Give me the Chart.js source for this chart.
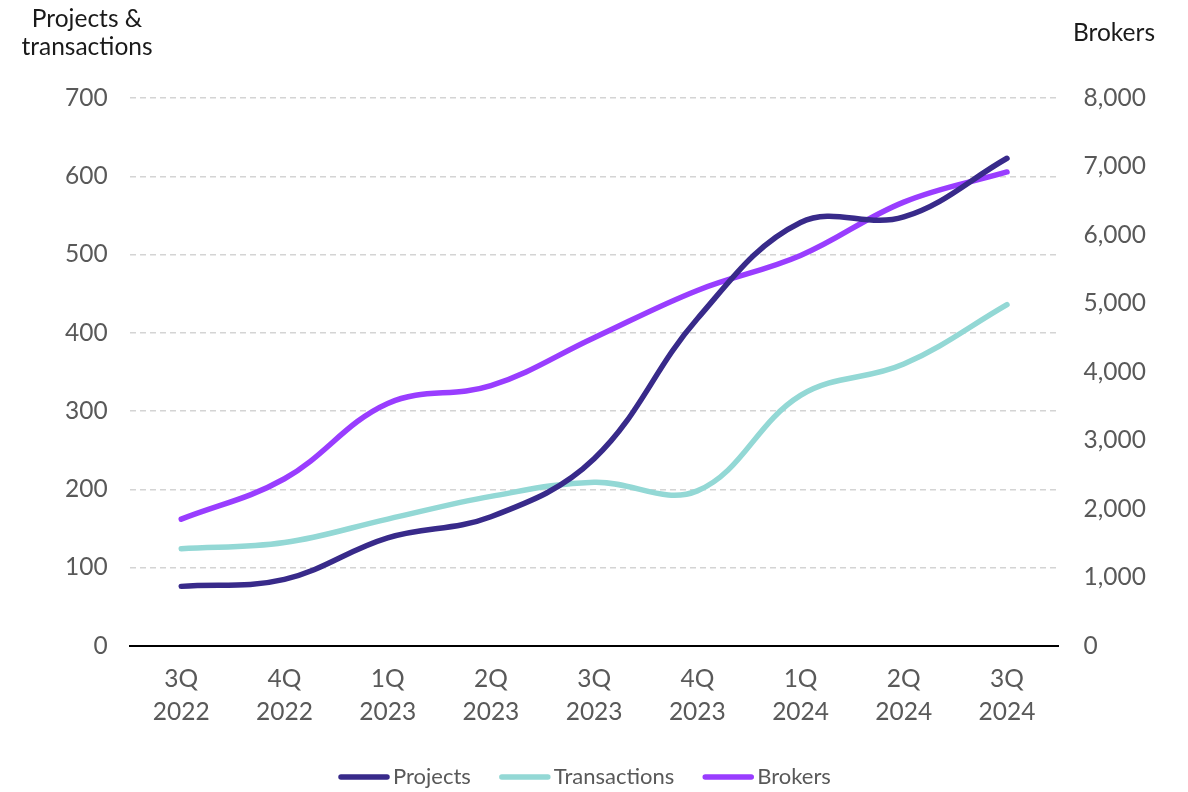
<!DOCTYPE html>
<html>
<head>
<meta charset="utf-8">
<script src="https://cdn.jsdelivr.net/npm/chart.js@4"></script>
<style>
  html, body { margin: 0; padding: 0; background: #fff; }
  #wrap { width: 1188px; height: 792px; position: relative; }
</style>
</head>
<body>
<div id="wrap"><canvas id="chart"></canvas></div>
<script>
// quarters on the x axis (two-line labels)
const quarters = [
  ['3Q', '2022'], ['4Q', '2022'], ['1Q', '2023'], ['2Q', '2023'], ['3Q', '2023'],
  ['4Q', '2023'], ['1Q', '2024'], ['2Q', '2024'], ['3Q', '2024']
];

// left axis series
const projects = [76, 85, 138, 165, 239, 418, 541, 548, 623];
const transactions = [124, 132, 162, 191, 209, 198, 320, 360, 436];

// right axis series
const brokers = [1850, 2440, 3540, 3800, 4500, 5190, 5700, 6480, 6920];

const FONT = 'Lato, "Noto Sans", sans-serif';
const TICK_COLOR = '#595959';

// axis titles above the y axes + a compact legend at the bottom
const extras = {
  id: 'extras',
  afterDraw(chart) {
    const ctx = chart.ctx;
    ctx.save();
    ctx.fillStyle = '#1a1a1a';
    ctx.font = '24.5px ' + FONT;
    ctx.textBaseline = 'middle';
    ctx.textAlign = 'center';
    ctx.fillText('Projects &', 87, 19);
    ctx.fillText('transactions', 87, 47);
    ctx.fillText('Brokers', 1114, 33);

    // legend: short thick line, then label
    ctx.font = '22px ' + FONT;
    ctx.textAlign = 'left';
    let x = 338;
    const y = 777;
    chart.data.datasets.forEach(ds => {
      ctx.strokeStyle = ds.borderColor;
      ctx.lineWidth = ds.borderWidth;
      ctx.lineCap = 'round';
      ctx.beginPath();
      ctx.moveTo(x + 3, y);
      ctx.lineTo(x + 49, y);
      ctx.stroke();
      x += 55;
      ctx.fillStyle = TICK_COLOR;
      ctx.fillText(ds.label, x, y);
      x += ctx.measureText(ds.label).width + 28;
    });
    ctx.restore();
  }
};

const tickFont = { family: FONT, size: 24.5, lineHeight: 1.35 };

new Chart(document.getElementById('chart').getContext('2d'), {
  type: 'line',
  data: {
    labels: quarters,
    datasets: [{
      label: 'Projects',
      data: projects,
      borderColor: '#382a8a',
      backgroundColor: '#382a8a',
      borderWidth: 5.5,
      borderCapStyle: 'round',
      pointRadius: 0,
      tension: 0.38,
      yAxisID: 'y'
    }, {
      label: 'Transactions',
      data: transactions,
      borderColor: '#93d8d5',
      backgroundColor: '#93d8d5',
      borderWidth: 5.5,
      borderCapStyle: 'round',
      pointRadius: 0,
      tension: 0.38,
      yAxisID: 'y'
    }, {
      label: 'Brokers',
      data: brokers,
      borderColor: '#993dff',
      backgroundColor: '#993dff',
      borderWidth: 5.5,
      borderCapStyle: 'round',
      pointRadius: 0,
      tension: 0.38,
      yAxisID: 'y1'
    }]
  },
  options: {
    responsive: true,
    maintainAspectRatio: false,
    animation: false,
    layout: { padding: { top: 98, left: 43, right: 17, bottom: 46 } },
    plugins: {
      tooltip: { enabled: false },
      legend: { display: false }
    },
    scales: {
      x: {
        offset: true,
        grid: { display: false, drawTicks: false },
        border: { color: '#000', width: 2 },
        ticks: {
          color: TICK_COLOR,
          font: tickFont,
          padding: 17,
          maxRotation: 0
        }
      },
      y: {
        position: 'left',
        min: 0,
        max: 700,
        ticks: {
          stepSize: 100,
          color: TICK_COLOR,
          font: tickFont,
          padding: 22
        },
        grid: { color: '#d4d4d4', lineWidth: 1.5, drawTicks: false },
        border: { display: false, dash: [6, 4] }
      },
      y1: {
        position: 'right',
        min: 0,
        max: 8000,
        ticks: {
          stepSize: 1000,
          color: TICK_COLOR,
          font: tickFont,
          padding: 25,
          callback: v => v.toLocaleString('en-US')
        },
        grid: { display: false, drawTicks: false },
        border: { display: false }
      }
    }
  },
  plugins: [extras]
});
</script>
</body>
</html>
